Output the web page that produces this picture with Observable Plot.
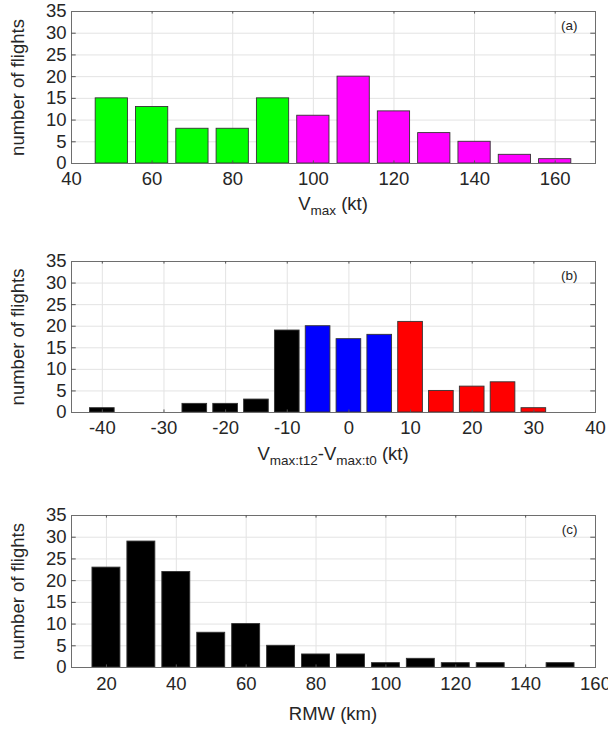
<!DOCTYPE html>
<html>
<head>
<meta charset="utf-8">
<script src="https://cdn.jsdelivr.net/npm/d3@7"></script>
<script src="https://cdn.jsdelivr.net/npm/@observablehq/plot@0.6"></script>
<style>
  html, body { margin: 0; padding: 0; background: #fff; }
  #wrap { position: relative; width: 608px; height: 740px; overflow: hidden; background: #fff; }
  #wrap svg { position: absolute; left: 0; }
</style>
</head>
<body>
<div id="wrap"></div>
<script>
// ---------- data ----------
const yTicks = [0, 5, 10, 15, 20, 25, 30, 35];

// (a) Vmax histogram (kt)
const aCenters = [50, 60, 70, 80, 90, 100, 110, 120, 130, 140, 150, 160];
const aCounts  = [15, 13, 8, 8, 15, 11, 20, 12, 7, 5, 2, 1];
const aGroups  = ["weak", "weak", "weak", "weak", "weak", "strong", "strong", "strong", "strong", "strong", "strong", "strong"];
const aTicks   = [40, 60, 80, 100, 120, 140, 160];

// (b) 12-h intensity change (kt)
const bCenters = [-40, -35, -30, -25, -20, -15, -10, -5, 0, 5, 10, 15, 20, 25, 30];
const bCounts  = [1, 0, 0, 2, 2, 3, 19, 20, 17, 18, 21, 5, 6, 7, 1];
const bGroups  = ["weaken", "weaken", "weaken", "weaken", "weaken", "weaken", "weaken", "steady", "steady", "steady", "intensify", "intensify", "intensify", "intensify", "intensify"];
const bTicks   = [-40, -30, -20, -10, 0, 10, 20, 30, 40];

// (c) RMW histogram (km)
const cCenters = [20, 30, 40, 50, 60, 70, 80, 90, 100, 110, 120, 130, 140, 150];
const cCounts  = [23, 29, 22, 8, 10, 5, 3, 3, 1, 2, 1, 1, 0, 1];
const cGroups  = ["all", "all", "all", "all", "all", "all", "all", "all", "all", "all", "all", "all", "all", "all"];
const cTicks   = [20, 40, 60, 80, 100, 120, 140, 160];

// ---------- styles ----------
const colors = {weak: "#00ff00", strong: "#ff00ff", weaken: "#000000", steady: "#0000ff", intensify: "#ff0000", all: "#000000"};
const FONT = "'Liberation Sans', Arial, Helvetica, sans-serif";
const TEXT = "#262626";
const FS = 18.5;

function panel({centers, counts, groups, binWidth, xDomain, xTicks, tag, height, marginTop, marginBottom, tickPadding}) {
  const data = centers.map((c, i) => ({c, n: counts[i], g: groups[i]})).filter(d => d.n > 0);
  const half = binWidth * 0.8 / 2;
  const innerX = xTicks.filter(t => t > xDomain[0] && t < xDomain[1]);
  const innerY = yTicks.filter(t => t > 0 && t < 35);
  const tickLenX = (xDomain[1] - xDomain[0]) * 0.009;
  return Plot.plot({
    width: 608,
    height,
    marginLeft: 71,
    marginRight: 13,
    marginTop,
    marginBottom,
    style: {fontFamily: FONT, fontSize: FS + "px", color: TEXT, background: "#fff", overflow: "visible"},
    x: {domain: xDomain},
    y: {domain: [0, 35]},
    marks: [
      Plot.gridX(xTicks, {stroke: "#e3e3e3", strokeOpacity: 1, strokeWidth: 1}),
      Plot.gridY(yTicks, {stroke: "#e3e3e3", strokeOpacity: 1, strokeWidth: 1}),
      Plot.rectY(data, {
        x1: d => d.c - half,
        x2: d => d.c + half,
        y1: 0,
        y2: "n",
        fill: d => colors[d.g],
        stroke: "#333",
        strokeWidth: 0.9
      }),
      Plot.frame({stroke: "#6e6e6e", strokeWidth: 1}),
      Plot.ruleX(innerX, {x: d => d, y1: 0, y2: 0.6, stroke: "#555"}),
      Plot.ruleX(innerX, {x: d => d, y1: 34.4, y2: 35, stroke: "#555"}),
      Plot.ruleY(innerY, {y: d => d, x1: xDomain[0], x2: xDomain[0] + tickLenX, stroke: "#555"}),
      Plot.ruleY(innerY, {y: d => d, x1: xDomain[1] - tickLenX, x2: xDomain[1], stroke: "#555"}),
      Plot.axisX(xTicks, {tickSize: 0, tickPadding, tickFormat: d => String(d), label: null, fill: TEXT}),
      Plot.axisY(yTicks, {
        tickSize: 0, tickPadding: 5, tickFormat: d => String(d), fill: TEXT,
        label: "number of flights", labelAnchor: "center", labelArrow: "none", labelOffset: 61
      }),
      Plot.text([tag], {frameAnchor: "top-right", dx: -18, dy: 9, fontSize: 13.5, lineAnchor: "top", textAnchor: "end", fill: TEXT, text: d => d})
    ]
  });
}

function addXLabel(svg, parts, y) {
  const t = d3.select(svg).append("text")
    .attr("x", 333).attr("y", y)
    .attr("text-anchor", "middle")
    .attr("fill", TEXT)
    .style("font-family", FONT)
    .style("font-size", FS + "px");
  let shifted = false;
  for (const p of parts) {
    const ts = t.append("tspan").text(p.text);
    if (p.sub && !shifted) { ts.attr("dy", 5).style("font-size", "13.5px"); shifted = true; }
    else if (!p.sub && shifted) { ts.attr("dy", -5); shifted = false; }
    else if (p.sub) { ts.style("font-size", "13.5px"); }
  }
}

const wrap = document.getElementById("wrap");

const A = panel({centers: aCenters, counts: aCounts, groups: aGroups, binWidth: 10, xDomain: [40, 170], xTicks: aTicks, tag: "(a)", height: 250, marginTop: 11, marginBottom: 87, tickPadding: 8});
A.style.top = "0px";
addXLabel(A, [{text: "V"}, {text: "max", sub: true}, {text: " (kt)"}], 210);
wrap.appendChild(A);

const B = panel({centers: bCenters, counts: bCounts, groups: bGroups, binWidth: 5, xDomain: [-45, 40], xTicks: bTicks, tag: "(b)", height: 250, marginTop: 11, marginBottom: 88, tickPadding: 8});
B.style.top = "250px";
addXLabel(B, [{text: "V"}, {text: "max:t12", sub: true}, {text: "-V"}, {text: "max:t0", sub: true}, {text: " (kt)"}], 210);
wrap.appendChild(B);

const C = panel({centers: cCenters, counts: cCounts, groups: cGroups, binWidth: 10, xDomain: [10, 160], xTicks: cTicks, tag: "(c)", height: 240, marginTop: 15, marginBottom: 73, tickPadding: 9});
C.style.top = "500px";
addXLabel(C, [{text: "RMW (km)"}], 220);
wrap.appendChild(C);
</script>
</body>
</html>
